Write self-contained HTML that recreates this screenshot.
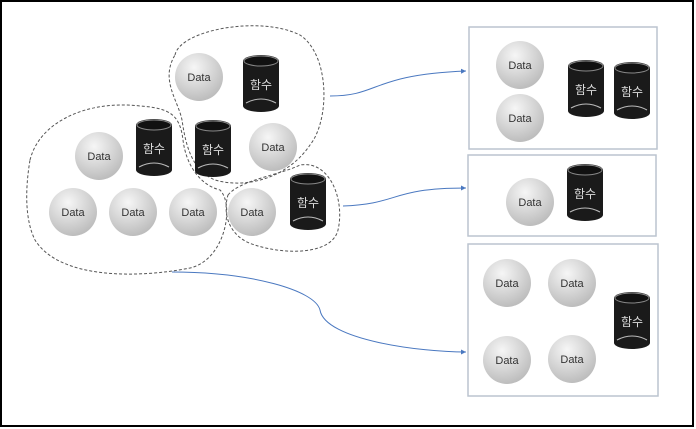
<!DOCTYPE html>
<html><head><meta charset="utf-8"><style>
html,body{margin:0;padding:0;background:#fff}
svg{display:block}
text{font-family:"Liberation Sans","Noto Sans CJK KR",sans-serif}
</style></head><body>
<svg width="696" height="429" viewBox="0 0 696 429" xmlns="http://www.w3.org/2000/svg">
<defs>
<radialGradient id="g" cx="0.4" cy="0.3" r="0.7">
<stop offset="0" stop-color="#f6f6f6"/><stop offset="0.6" stop-color="#d4d4d4"/><stop offset="1" stop-color="#bdbdbd"/>
</radialGradient>
<marker id="ar" markerWidth="6" markerHeight="6" refX="5" refY="3" orient="auto"><path d="M0,0.5 L5,3 L0,5.5Z" fill="#4a78c0"/></marker>
</defs>
<rect x="1" y="1" width="692" height="425" fill="#fff" stroke="#000" stroke-width="2"/>
<g fill="none" stroke="#bbc4cf" stroke-width="1.5">
<rect x="469" y="27" width="188" height="122"/>
<rect x="468" y="155" width="188" height="81"/>
<rect x="468" y="244" width="190" height="152"/>
</g>
<g fill="none" stroke="#555" stroke-width="1" stroke-dasharray="3,2">
<path d="M175,55 C180,30 260,15 300,35 C330,55 330,120 310,145 C290,175 250,190 215,180 C190,170 185,140 182,120 C178,100 160,80 175,55 Z"/>
<path d="M30,160 C40,120 90,100 140,106 C170,108 180,115 183,140 C186,165 200,185 220,190 C235,205 225,260 190,268 C140,278 60,280 35,240 C25,220 25,190 30,160 Z"/>
<path d="M228,195 C240,180 280,175 300,165 C330,160 345,200 338,230 C332,255 285,255 255,245 C230,238 222,215 228,195 Z"/>
</g>
<g fill="none" stroke="#4a78c0" stroke-width="1">
<path d="M330,96 C380,96 370,75 466,71" marker-end="url(#ar)"/>
<path d="M343,206 C400,204 390,188 466,188" marker-end="url(#ar)"/>
<path d="M172,272 C250,272 315,290 320,310 C325,340 420,352 466,352" marker-end="url(#ar)"/>
</g>
<g font-size="11" text-anchor="middle" fill="#333">
<circle cx="199" cy="77" r="24" fill="url(#g)"/><text x="199" y="81">Data</text>
<circle cx="99" cy="156" r="24" fill="url(#g)"/><text x="99" y="160">Data</text>
<circle cx="273" cy="147" r="24" fill="url(#g)"/><text x="273" y="151">Data</text>
<circle cx="73" cy="212" r="24" fill="url(#g)"/><text x="73" y="216">Data</text>
<circle cx="133" cy="212" r="24" fill="url(#g)"/><text x="133" y="216">Data</text>
<circle cx="193" cy="212" r="24" fill="url(#g)"/><text x="193" y="216">Data</text>
<circle cx="252" cy="212" r="24" fill="url(#g)"/><text x="252" y="216">Data</text>
<circle cx="520" cy="65" r="24" fill="url(#g)"/><text x="520" y="69">Data</text>
<circle cx="520" cy="118" r="24" fill="url(#g)"/><text x="520" y="122">Data</text>
<circle cx="530" cy="202" r="24" fill="url(#g)"/><text x="530" y="206">Data</text>
<circle cx="507" cy="283" r="24" fill="url(#g)"/><text x="507" y="287">Data</text>
<circle cx="572" cy="283" r="24" fill="url(#g)"/><text x="572" y="287">Data</text>
<circle cx="507" cy="360" r="24" fill="url(#g)"/><text x="507" y="364">Data</text>
<circle cx="572" cy="359" r="24" fill="url(#g)"/><text x="572" y="363">Data</text>
</g>
<g font-size="12" text-anchor="middle" fill="#ddd">
<g transform="translate(243,55)"><path d="M0,6 A18,6 0 0 1 36,6 V51 A18,6 0 0 1 0,51 Z" fill="#1a1a1a"/><ellipse cx="18" cy="6" rx="17" ry="5" fill="#111" stroke="#888"/><path d="M3,48 Q18,40 33,48" stroke="#bbb" fill="none"/><text x="18" y="34">함수</text></g>
<g transform="translate(136,119)"><path d="M0,6 A18,6 0 0 1 36,6 V51 A18,6 0 0 1 0,51 Z" fill="#1a1a1a"/><ellipse cx="18" cy="6" rx="17" ry="5" fill="#111" stroke="#888"/><path d="M3,48 Q18,40 33,48" stroke="#bbb" fill="none"/><text x="18" y="34">함수</text></g>
<g transform="translate(195,120)"><path d="M0,6 A18,6 0 0 1 36,6 V51 A18,6 0 0 1 0,51 Z" fill="#1a1a1a"/><ellipse cx="18" cy="6" rx="17" ry="5" fill="#111" stroke="#888"/><path d="M3,48 Q18,40 33,48" stroke="#bbb" fill="none"/><text x="18" y="34">함수</text></g>
<g transform="translate(290,173)"><path d="M0,6 A18,6 0 0 1 36,6 V51 A18,6 0 0 1 0,51 Z" fill="#1a1a1a"/><ellipse cx="18" cy="6" rx="17" ry="5" fill="#111" stroke="#888"/><path d="M3,48 Q18,40 33,48" stroke="#bbb" fill="none"/><text x="18" y="34">함수</text></g>
<g transform="translate(568,60)"><path d="M0,6 A18,6 0 0 1 36,6 V51 A18,6 0 0 1 0,51 Z" fill="#1a1a1a"/><ellipse cx="18" cy="6" rx="17" ry="5" fill="#111" stroke="#888"/><path d="M3,48 Q18,40 33,48" stroke="#bbb" fill="none"/><text x="18" y="34">함수</text></g>
<g transform="translate(614,62)"><path d="M0,6 A18,6 0 0 1 36,6 V51 A18,6 0 0 1 0,51 Z" fill="#1a1a1a"/><ellipse cx="18" cy="6" rx="17" ry="5" fill="#111" stroke="#888"/><path d="M3,48 Q18,40 33,48" stroke="#bbb" fill="none"/><text x="18" y="34">함수</text></g>
<g transform="translate(567,164)"><path d="M0,6 A18,6 0 0 1 36,6 V51 A18,6 0 0 1 0,51 Z" fill="#1a1a1a"/><ellipse cx="18" cy="6" rx="17" ry="5" fill="#111" stroke="#888"/><path d="M3,48 Q18,40 33,48" stroke="#bbb" fill="none"/><text x="18" y="34">함수</text></g>
<g transform="translate(614,292)"><path d="M0,6 A18,6 0 0 1 36,6 V51 A18,6 0 0 1 0,51 Z" fill="#1a1a1a"/><ellipse cx="18" cy="6" rx="17" ry="5" fill="#111" stroke="#888"/><path d="M3,48 Q18,40 33,48" stroke="#bbb" fill="none"/><text x="18" y="34">함수</text></g>
</g>
</svg>
</body></html>
